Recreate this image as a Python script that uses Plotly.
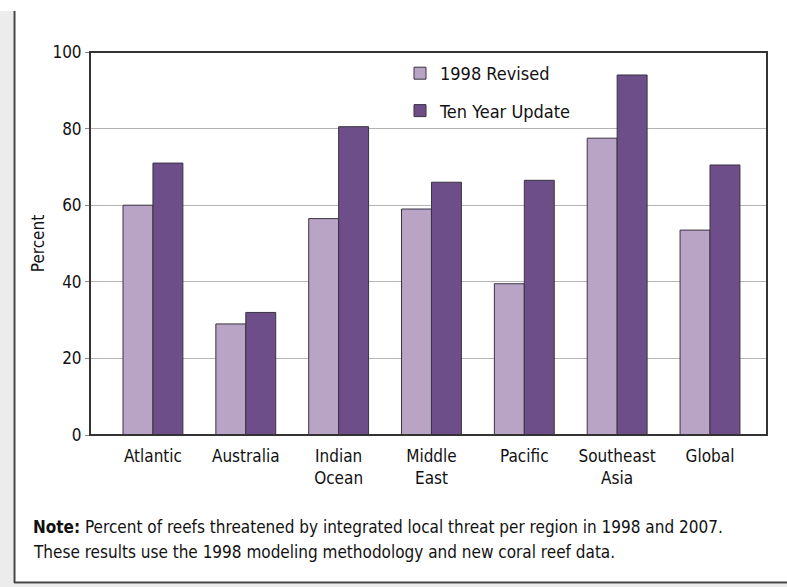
import plotly.graph_objects as go

categories = ["Atlantic", "Australia", "Indian<br>Ocean", "Middle<br>East", "Pacific", "Southeast<br>Asia", "Global"]
revised_1998 = [60, 29, 56.5, 59, 39.5, 77.5, 53.5]
ten_year_update = [71, 32, 80.5, 66, 66.5, 94, 70.5]
y_ticks = [0, 20, 40, 60, 80, 100]

FONT = "DejaVu Sans Condensed, Liberation Sans Narrow, Arial Narrow, sans-serif"
W, H = 787, 587
ML, MR, MT, MB = 90, 20, 52, 152
PW, PH = W - ML - MR, H - MT - MB

def px(x):
    return (x - ML) / PW

def py(y):
    return (H - MB - y) / PH

xs = list(range(len(categories)))

fig = go.Figure()
fig.add_trace(go.Bar(x=xs, y=revised_1998, name="1998 Revised",
                     marker=dict(color="#b9a4c6", line=dict(color="#3a3340", width=1)),
                     legendgroup="a"))
fig.add_trace(go.Bar(x=xs, y=ten_year_update, name="Ten Year Update",
                     marker=dict(color="#6d4e88", line=dict(color="#3a3340", width=1)),
                     legendgroup="b"))

fig.update_layout(
    width=W, height=H,
    margin=dict(l=ML, r=MR, t=MT, b=MB),
    paper_bgcolor="white", plot_bgcolor="white",
    barmode="group", bargap=0.355, bargroupgap=0,
    font=dict(family=FONT, size=17, color="#111"),
    legend=dict(x=px(400), y=py(55), xanchor="left", yanchor="top",
                bgcolor="rgba(255,255,255,0)", font=dict(size=18),
                traceorder="grouped", tracegroupgap=11),
    xaxis=dict(range=[-0.678, 6.614], tickmode="array", tickvals=xs, ticktext=categories,
               showgrid=False, zeroline=False, ticks="", showline=False, tickfont=dict(size=17),
               ticklabelstandoff=9),
    yaxis=dict(range=[0, 100], tickvals=y_ticks, showgrid=True, gridcolor="#b5b5b5", gridwidth=1,
               zeroline=False, ticks="outside", ticklen=4, tickcolor="#888", showline=False,
               tickfont=dict(size=17),
               title=dict(text="Percent", font=dict(size=17), standoff=3)),
)

# plot box
fig.add_shape(type="rect", xref="paper", yref="paper", x0=0, x1=1, y0=0, y1=1,
              line=dict(color="#333", width=2), layer="above")

# outer frame: left strip and bottom strip
fig.add_shape(type="rect", xref="paper", yref="paper", x0=px(0), x1=px(13), y0=py(587), y1=py(11),
              fillcolor="#ececec", line=dict(width=0), layer="below")
fig.add_shape(type="rect", xref="paper", yref="paper", x0=px(13), x1=px(787), y0=py(587), y1=py(584),
              fillcolor="#ececec", line=dict(width=0), layer="below")
fig.add_shape(type="line", xref="paper", yref="paper", x0=px(14.5), x1=px(14.5), y0=py(583), y1=py(11),
              line=dict(color="#444", width=2))
fig.add_shape(type="line", xref="paper", yref="paper", x0=px(14), x1=px(787), y0=py(582.5), y1=py(582.5),
              line=dict(color="#444", width=2))

fig.add_annotation(xref="paper", yref="paper", x=px(31), y=py(527), xanchor="left", yanchor="middle",
                   showarrow=False, font=dict(size=17, color="#111"),
                   text="<b>Note:</b> Percent of reefs threatened by integrated local threat per region in 1998 and 2007.")
fig.add_annotation(xref="paper", yref="paper", x=px(31), y=py(552), xanchor="left", yanchor="middle",
                   showarrow=False, font=dict(size=17, color="#111"),
                   text="These results use the 1998 modeling methodology and new coral reef data.")

fig.write_html("out.html", config={"displayModeBar": False},
               post_script="document.body.style.margin='0';document.body.style.overflow='hidden';")
